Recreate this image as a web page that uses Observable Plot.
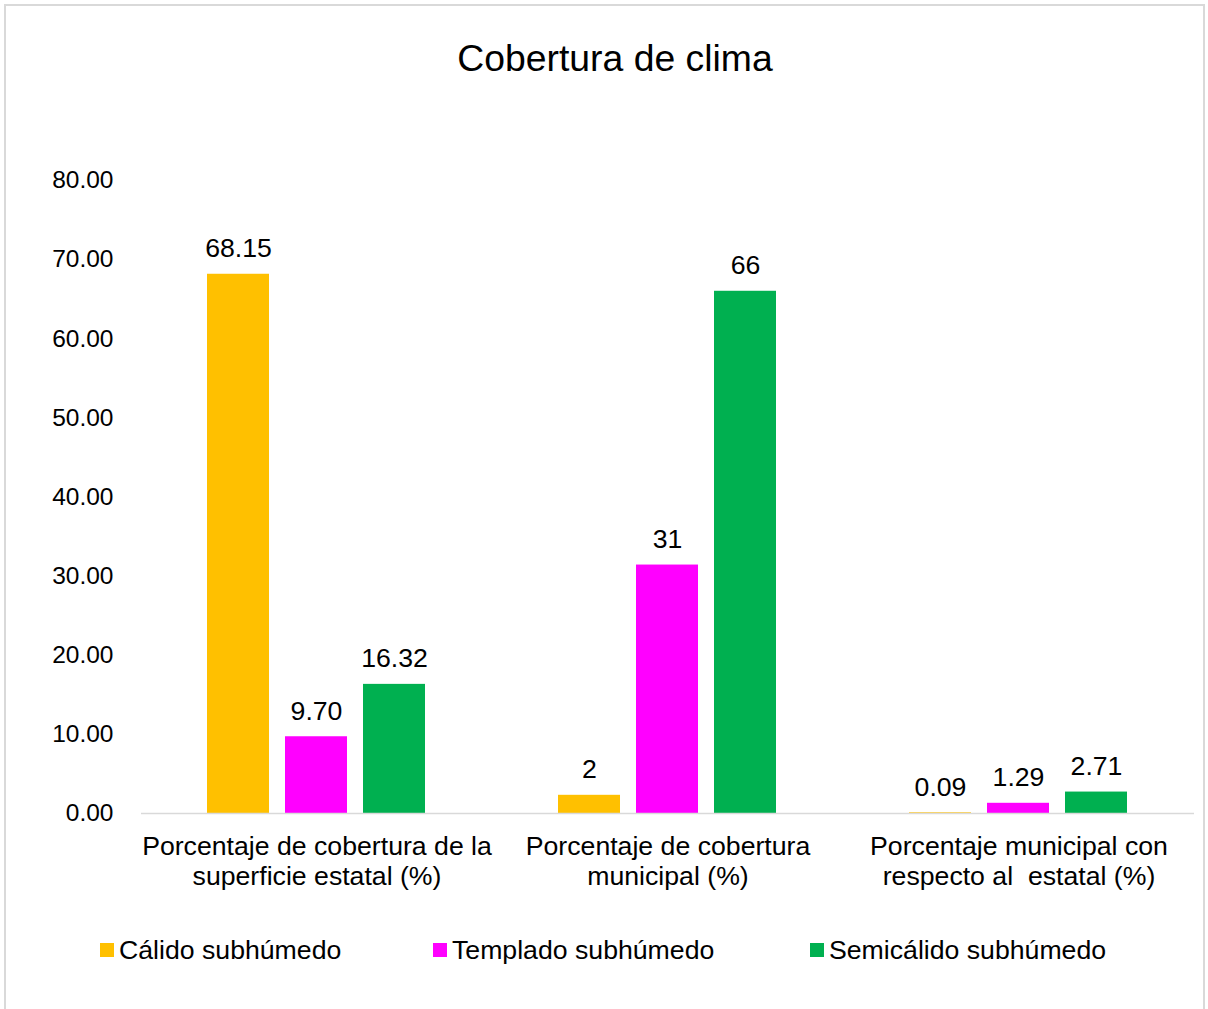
<!DOCTYPE html>
<html>
<head>
<meta charset="utf-8">
<script src="https://cdn.jsdelivr.net/npm/d3@7"></script>
<script src="https://cdn.jsdelivr.net/npm/@observablehq/plot@0.6"></script>
<style>
  html, body { margin: 0; padding: 0; background: #fff; }
  body { font-family: "Liberation Sans", Arial, sans-serif; color: #000; }
  #wrap { position: relative; width: 1208px; height: 1009px; overflow: hidden; background: #fff; }
  #border { position: absolute; left: 4px; top: 4px; width: 1201px; height: 1012px; border: 2px solid #d9d9d9; box-sizing: border-box; }
  #title { position: absolute; left: 315px; width: 600px; top: 40px; text-align: center; font-size: 37.33px; line-height: 37.33px; white-space: nowrap; }
  #chart { position: absolute; left: 0; top: 0; }
  #chart svg text { white-space: pre; }
  .lg-sq { position: absolute; width: 14px; height: 14px; top: 943px; }
  .lg-tx { position: absolute; top: 937px; font-size: 26.67px; line-height: 26.67px; white-space: nowrap; }
</style>
</head>
<body>
<div id="wrap">
  <div id="border"></div>
  <div id="chart"></div>
  <div id="title"></div>
  <div id="legend"></div>
</div>
<script>
const title = "Cobertura de clima";
const categories = [
  "Porcentaje de cobertura de la\nsuperficie estatal (%)",
  "Porcentaje de cobertura\nmunicipal (%)",
  "Porcentaje municipal con\nrespecto al  estatal (%)"
];
const series = ["Cálido subhúmedo", "Templado subhúmedo", "Semicálido subhúmedo"];
const colors = ["#FFC000", "#FF00FF", "#00B050"];
const calido = [68.15, 2.3, 0.09];
const templado = [9.70, 31.4, 1.29];
const semicalido = [16.32, 66.0, 2.71];
const calidoLabels = ["68.15", "2", "0.09"];
const templadoLabels = ["9.70", "31", "1.29"];
const semicalidoLabels = ["16.32", "66", "2.71"];
const yTicks = [0, 10, 20, 30, 40, 50, 60, 70, 80];

const values = [calido, templado, semicalido];
const labels = [calidoLabels, templadoLabels, semicalidoLabels];
const rows = [];
categories.forEach((c, i) => {
  series.forEach((s, j) => {
    rows.push({cat: c, series: s, value: values[j][i], label: labels[j][i]});
  });
});

document.getElementById("title").textContent = title;

const chart = Plot.plot({
  width: 1208,
  height: 1009,
  marginTop: 180,
  marginBottom: 196,
  marginLeft: 140,
  marginRight: 13,
  style: {fontFamily: "'Liberation Sans', Arial, sans-serif", fontSize: "24.5px", color: "#000", background: "transparent", overflow: "visible"},
  fx: {domain: categories, padding: 0, axis: null, label: null},
  x: {domain: series, paddingInner: 0.2, paddingOuter: 0.85, axis: null, label: null},
  y: {domain: [0, 80], ticks: yTicks, tickFormat: d => d.toFixed(2), tickSize: 0, tickPadding: 28, label: null},
  color: {domain: series, range: colors},
  marks: [
    Plot.barY(rows, {fx: "cat", x: "series", y: "value", fill: "series"}),
    Plot.ruleY([0], {stroke: "#d9d9d9", strokeWidth: 1.5}),
    Plot.text(rows, {fx: "cat", x: "series", y: "value", text: "label", lineAnchor: "bottom", dy: -17, fontSize: 26.67, fill: "#000"}),
    Plot.text(categories, {fx: d => d, text: d => d, frameAnchor: "bottom", lineAnchor: "top", dy: 20, lineHeight: 1.12, fontSize: 26.67, fill: "#000"})
  ]
});
document.getElementById("chart").appendChild(chart);

const legend = document.getElementById("legend");
const lgLeft = [100, 433, 810];
series.forEach((s, i) => {
  const sq = document.createElement("div");
  sq.className = "lg-sq";
  sq.style.left = lgLeft[i] + "px";
  sq.style.background = colors[i];
  legend.appendChild(sq);
  const tx = document.createElement("div");
  tx.className = "lg-tx";
  tx.style.left = (lgLeft[i] + 19) + "px";
  tx.textContent = s;
  legend.appendChild(tx);
});
</script>
</body>
</html>
